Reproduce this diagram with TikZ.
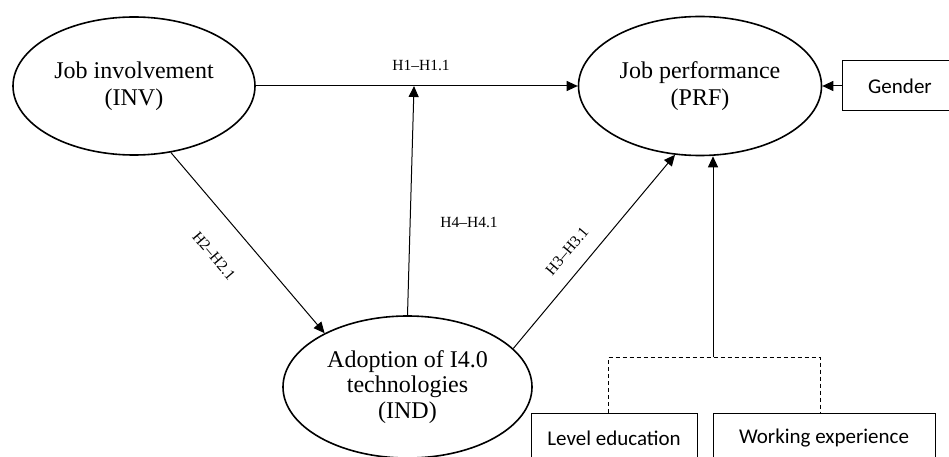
\documentclass[tikz,border=0pt]{standalone}
\usepackage{fontspec}
\setmainfont{Liberation Serif}
\setsansfont{Carlito}
\usetikzlibrary{shapes.geometric,arrows.meta}
\begin{document}
\begin{tikzpicture}[x=1pt,y=-1pt,
  construct/.style={ellipse,draw,line width=1.6pt,inner sep=0pt,align=center,
    font=\fontsize{24}{27}\selectfont},
  ctrlbox/.style={draw,line width=1pt,inner sep=0pt,minimum height=50pt,
    font=\sffamily\fontsize{21}{24}\selectfont},
  path/.style={line width=1pt,-{Triangle[length=11pt,width=10pt]}},
  hyp/.style={font=\fontsize{15.5}{18}\selectfont,inner sep=0pt}]
\clip (0,0) rectangle (949,457);
\fill[white] (0,0) rectangle (949,457);

\node[construct,minimum width=242pt,minimum height=138pt] (INV) at (134,86) {Job involvement\\(INV)};
\node[construct,minimum width=243pt,minimum height=139pt] (PRF) at (700,86) {Job performance\\(PRF)};
\node[construct,minimum width=249pt,minimum height=142pt,font=\fontsize{24}{25.5}\selectfont] (IND) at (407.5,387) {Adoption of I4.0\\technologies\\(IND)};

\node[ctrlbox,minimum width=116pt] (GEN) at (900,86) {Gender};
\node[ctrlbox,minimum width=166pt] (LEV) at (614,438) {Level education};
\node[ctrlbox,minimum width=222pt] (WEX) at (824,438) {Working experience};

\coordinate (h4end) at (414,86);
\coordinate (bl) at (608,357);
\coordinate (br) at (820,357);
\coordinate (bm) at (713,357);

\draw[path] (INV) -- (PRF);
\draw[path] (GEN) -- (PRF);
\draw[path] (IND.north) -- (h4end);
\draw[path] (INV.-61) -- (IND.147);
\draw[path] (IND.20) -- (PRF.-110);
\draw[path] (bm) -- (bm |- PRF.south);
\draw[line width=1pt,dash pattern=on 4pt off 3pt] (LEV.north -| bl) -- (bl) -- (br) -- (WEX.north -| br);

\node[hyp] (l1) at (421,65) {H1--H1.1};
\node[hyp] (l4) at (469,222) {H4--H4.1};
\node[hyp,rotate=-49.6] (l2) at (214,256) {H2--H2.1};
\node[hyp,rotate=49.8] (l3) at (567,251) {H3--H3.1};
\end{tikzpicture}
\end{document}
